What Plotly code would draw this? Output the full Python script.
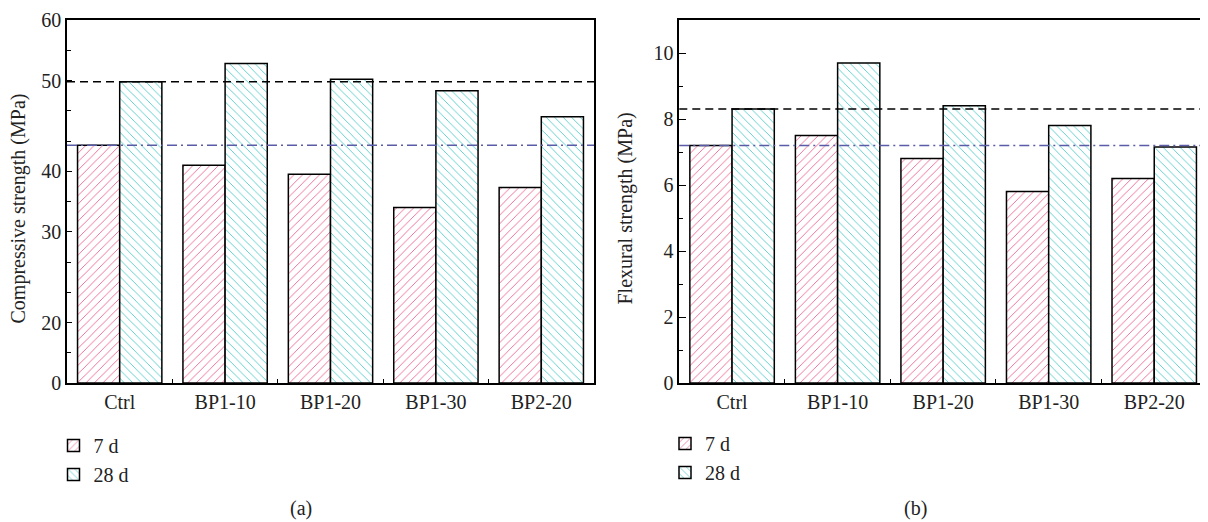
import plotly.graph_objects as go

categories = ["Ctrl", "BP1-10", "BP1-20", "BP1-30", "BP2-20"]
comp_7d = [39.3, 36.0, 34.5, 29.0, 32.3]
comp_28d = [49.8, 52.8, 50.2, 48.3, 44.0]
flex_7d = [7.2, 7.5, 6.8, 5.8, 6.2]
flex_28d = [8.3, 9.7, 8.4, 7.8, 7.15]

comp_tickvals = [0, 10, 25, 35, 50, 60]
comp_ticktext = ["0", "20", "30", "40", "50", "60"]
flex_tickvals = [0, 2, 4, 6, 8, 10]
flex_ticktext = ["0", "2", "4", "6", "8", "10"]

series_names = ["7 d", "28 d"]

FONT = "Liberation Serif"
PINK = "#ea4a7c"
CYAN = "#36c2c2"
TXT = "#222"

# page has an 8px body margin; work in page pixel coordinates and convert
OFF = 8
W, H = 1200, 514
PL, PR, PT, PB = 67, 1207, 20, 383   # plot area on the page (left, right, top, bottom)
ML, MR, MT, MB = PL - OFF, W - (PR - OFF), PT - OFF, H - (PB - OFF)
pw = W - ML - MR
ph = H - MT - MB


def fx(page_x):
    return (page_x - OFF - ML) / pw


def fy(page_y):
    return 1 - (page_y - OFF - MT) / ph


fig = go.Figure()


def add_bars(xa, ya, v7, v28, legend):
    fig.add_trace(go.Bar(
        x=categories, y=v7, name=series_names[0], xaxis=xa, yaxis=ya, legend=legend,
        marker=dict(color="white", line=dict(color="black", width=1.5),
                    pattern=dict(shape="/", fgcolor=PINK, size=6, solidity=0.15, fgopacity=0.85)),
    ))
    fig.add_trace(go.Bar(
        x=categories, y=v28, name=series_names[1], xaxis=xa, yaxis=ya, legend=legend,
        marker=dict(color="white", line=dict(color="black", width=1.5),
                    pattern=dict(shape="\\", fgcolor=CYAN, size=6, solidity=0.15, fgopacity=0.85)),
    ))


add_bars("x", "y", comp_7d, comp_28d, "legend")
add_bars("x2", "y2", flex_7d, flex_28d, "legend2")

axis_common = dict(showline=True, linecolor="black", linewidth=1.5, mirror=True,
                   ticks="inside", tickcolor="black", showgrid=False, zeroline=False,
                   tickfont=dict(family=FONT, size=20, color=TXT))

x_common = dict(axis_common, type="category", tickson="boundaries", ticklen=4, tickwidth=1.2)

legend_common = dict(yanchor="top", xanchor="left", font=dict(family=FONT, size=20, color=TXT),
                     traceorder="normal", bgcolor="rgba(0,0,0,0)")

fig.update_layout(
    width=W, height=H,
    margin=dict(l=ML, r=MR, t=MT, b=MB, autoexpand=False),
    paper_bgcolor="white", plot_bgcolor="white",
    barmode="group", bargap=0.2, bargroupgap=0,
    font=dict(family=FONT, size=20, color=TXT),
    xaxis=dict(x_common, domain=[0, fx(594)], anchor="y"),
    xaxis2=dict(x_common, domain=[fx(679.3), 1], anchor="y2"),
    yaxis=dict(axis_common, range=[0, 60], tickmode="array", tickvals=comp_tickvals,
               ticktext=comp_ticktext, ticklen=5, tickwidth=1.2, anchor="x",
               minor=dict(dtick=5, ticks="inside", ticklen=4, tickcolor="black", tickwidth=1.2)),
    yaxis2=dict(axis_common, range=[0, 11], tickmode="array", tickvals=flex_tickvals,
                ticktext=flex_ticktext, ticklen=7, tickwidth=1.2, anchor="x2",
                minor=dict(dtick=1, ticks="inside", ticklen=4, tickcolor="black", tickwidth=1.2)),
    legend=dict(legend_common, x=fx(53.5), y=fy(426)),
    legend2=dict(legend_common, x=fx(665), y=fy(424)),
)

# reference lines at the Ctrl values
for xr, yr, v28, v7 in [("x domain", "y", comp_28d[0], comp_7d[0]),
                        ("x2 domain", "y2", flex_28d[0], flex_7d[0])]:
    fig.add_shape(type="line", xref=xr, yref=yr, x0=0, x1=1, y0=v28, y1=v28,
                  line=dict(color="black", width=1.5, dash="8px,5px"), layer="above")
    fig.add_shape(type="line", xref=xr, yref=yr, x0=0, x1=1, y0=v7, y1=v7,
                  line=dict(color="#5a5ca8", width=1.5, dash="10px,4px,2px,4px"), layer="above")

# axis titles
for txt, xc in [("Compressive strength (MPa)", 18), ("Flexural strength (MPa)", 625)]:
    fig.add_annotation(text=txt, textangle=-90, xref="paper", yref="paper",
                       x=fx(xc), y=fy(208.5), xanchor="center", yanchor="middle",
                       showarrow=False, font=dict(family=FONT, size=20, color=TXT))

# panel captions
for lab, xc in [("(a)", 301), ("(b)", 915)]:
    fig.add_annotation(text=lab, xref="paper", yref="paper", x=fx(xc), y=fy(508),
                       xanchor="center", yanchor="middle",
                       showarrow=False, font=dict(family=FONT, size=20, color=TXT))

fig.write_html("out.html")
